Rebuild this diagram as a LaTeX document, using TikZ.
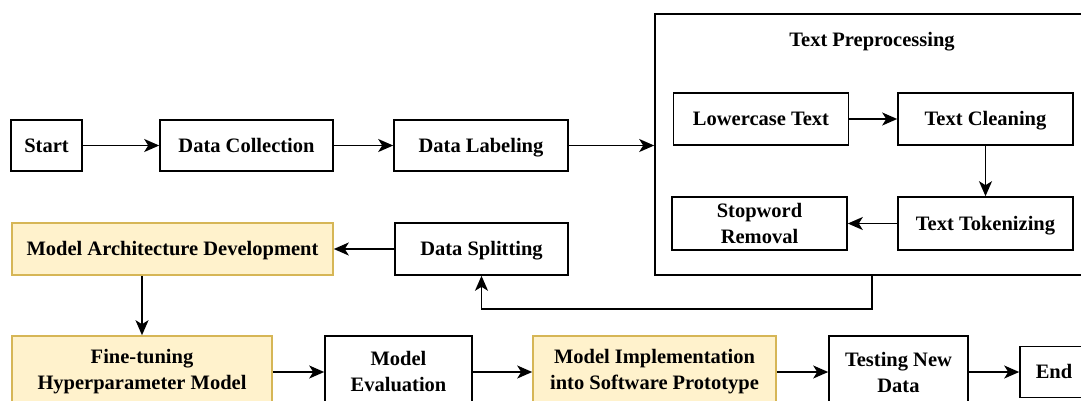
\documentclass[tikz,border=0pt]{standalone}
\usepackage{fontspec}
\setmainfont{Liberation Serif}
\usetikzlibrary{arrows.meta}
\definecolor{ylwfill}{HTML}{FFF2CC}
\definecolor{ylwline}{HTML}{D6B656}
\begin{document}
\begin{tikzpicture}[x=1pt,y=-1pt,
        box/.style={draw, line width=1.6pt, align=center, inner sep=0pt,
            font=\fontsize{20.5}{26}\selectfont\bfseries},
        ybox/.style={box, fill=ylwfill, draw=ylwline},
        oneline/.style={text height=18pt, text depth=4.5pt},
        arr/.style={line width=1.6pt, -{Stealth[length=15pt,width=13pt,inset=4pt]}}]
            \useasboundingbox (0,0) rectangle (1081,400);
            \clip (0,0) rectangle (1081,400);

            % top row
            \node[box, oneline, minimum width=71pt, minimum height=51pt] (start) at (46.5,145.5) {Start};
            \node[box, oneline, minimum width=173pt, minimum height=51pt] (collect) at (246.5,145.5) {Data Collection};
            \node[box, oneline, minimum width=174pt, minimum height=51pt] (label) at (481,145.5) {Data Labeling};

            % text preprocessing group
            \node[box, minimum width=440pt, minimum height=261pt] (prep) at (875,144.5) {};
            \node[font=\fontsize{20.5}{26}\selectfont\bfseries, oneline, inner sep=0pt] (title) at (872,39.5) {Text Preprocessing};
            \node[box, oneline, minimum width=175pt, minimum height=52pt] (lower) at (761,119) {Lowercase Text};
            \node[box, oneline, minimum width=175pt, minimum height=52pt] (clean) at (985.5,119) {Text Cleaning};
            \node[box, oneline, minimum width=175pt, minimum height=53pt] (token) at (985.5,223.5) {Text Tokenizing};
            \node[box, minimum width=175pt, minimum height=53pt] (stop) at (759.5,223.5) {Stopword\\Removal};

            % middle row
            \node[box, oneline, minimum width=173pt, minimum height=52pt] (split) at (481.5,249) {Data Splitting};
            \node[ybox, oneline, minimum width=321pt, minimum height=52pt] (arch) at (172.5,249) {Model Architecture Development};

            % bottom row
            \node[ybox, minimum width=260pt, minimum height=72pt] (fine) at (142,372) {Fine-tuning\\Hyperparameter Model};
            \node[box, minimum width=147pt, minimum height=72pt] (eval) at (398.5,372) {Model\\Evaluation};
            \node[ybox, minimum width=243pt, minimum height=72pt] (impl) at (654.5,372) {Model Implementation\\into Software Prototype};
            \node[box, minimum width=139pt, minimum height=72pt] (test) at (898.5,372) {Testing New\\Data};
            \node[box, oneline, minimum width=68pt, minimum height=51pt] (end) at (1054,372) {End};

            \draw[arr] (start) -- (collect);
            \draw[arr] (collect) -- (label);
            \draw[arr] (label) -- (label -| prep.west);
            \draw[arr] (lower) -- (clean);
            \draw[arr] (clean) -- (token);
            \draw[arr] (token) -- (stop);
            \draw[arr] (title |- prep.south) -- ++(0,33) -| (split.south);
            \draw[arr] (split) -- (arch);
            \draw[arr] (arch.south -| fine) -- (fine.north);
            \draw[arr] (fine) -- (eval);
            \draw[arr] (eval) -- (impl);
            \draw[arr] (impl) -- (test);
            \draw[arr] (test) -- (end);
        \end{tikzpicture}
\end{document}
